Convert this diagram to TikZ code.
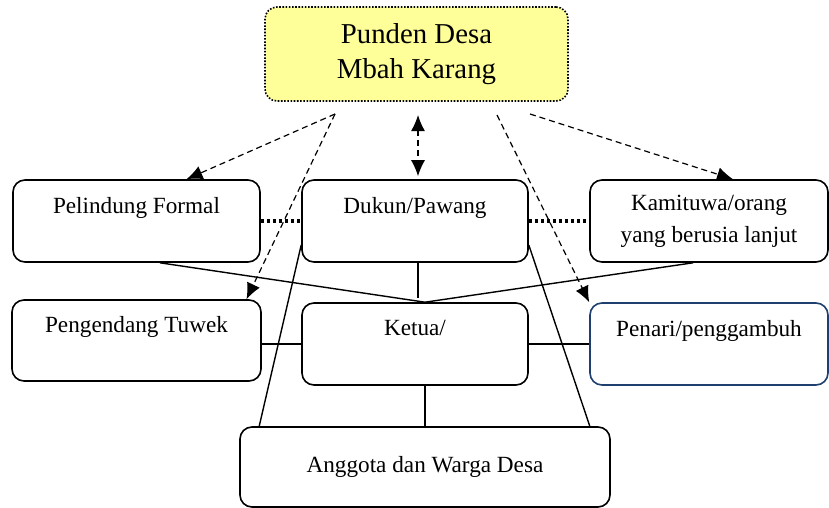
\documentclass[tikz,border=0pt]{standalone}
\usepackage{fontspec}
\setmainfont{Liberation Serif}
\definecolor{shrine}{HTML}{FFFF99}
\definecolor{bluedge}{HTML}{1F3F6E}
\usetikzlibrary{arrows.meta}

\begin{document}
\begin{tikzpicture}[x=0.5pt, y=-0.5pt,
		box/.style={draw, line width=0.8pt, rounded corners=6pt, minimum height=41pt, align=center, inner sep=0pt, font=\fontsize{11.6}{16}\selectfont},
		topbox/.style={draw, fill=shrine, line width=0.8pt, dash pattern=on 0.8pt off 0.8pt, rounded corners=6pt, minimum width=151.5pt, minimum height=47pt, align=center, inner sep=0pt, font=\fontsize{14.4}{17.5}\selectfont},
		link/.style={line width=0.7pt},
		dots/.style={line width=2pt, dash pattern=on 1.5pt off 1.5pt},
		arrow/.style={->, >={Latex[length=8pt,width=7pt]}, line width=0.6pt, dash pattern=on 3pt off 2pt}
	]
	\useasboundingbox (0,0) rectangle (829,508);
	\node[topbox] (punden) at (416.5,54) {Punden Desa\\Mbah Karang};
	\node[box, minimum width=123.5pt] (pelindung) at (136.5,221) {Pelindung Formal\\\mbox{}};
	\node[box, minimum width=113pt] (dukun) at (415,221) {Dukun/Pawang\\\mbox{}};
	\node[box, minimum width=119pt] (kamituwa) at (709,221) {Kamituwa/orang\\yang berusia lanjut};
	\node[box, minimum width=124.5pt, minimum height=40.5pt] (pengendang) at (136.5,340.5) {Pengendang Tuwek\\\mbox{}};
	\node[box, minimum width=113pt] (ketua) at (415,344) {Ketua/\\\mbox{}};
	\node[box, minimum width=119pt, draw=bluedge] (penari) at (709,344) {Penari/penggambuh\\\mbox{}};
	\node[box, minimum width=185pt, minimum height=40pt] (anggota) at (425,467) {Anggota dan Warga Desa};

	\draw[dots] (pelindung) -- (dukun);
	\draw[dots] (dukun) -- (kamituwa);
	\draw[link] (ketua.west) -- (ketua.west -| pengendang.east);
	\draw[link] (ketua) -- (penari);
	\draw[link] (anggota.north) -- (anggota.north |- ketua.south);
	\draw[link] ([xshift=11.75pt]pelindung.south) -- (anggota.north |- ketua.north) -- ([xshift=-8pt]kamituwa.south);
	\draw[link] ([xshift=1.5pt]dukun.south) -- ++(0,35);
	\draw[link] ([yshift=-12pt]dukun.west) -- ([xshift=10pt]anggota.north west);
	\draw[link] ([yshift=-12pt]dukun.east) -- ([xshift=-10.5pt]anggota.north east);

	\coordinate (s1) at (335,114);
	\coordinate (s2) at (418,115);
	\coordinate (s3) at (497,115);
	\coordinate (s4) at (530,114);
	\draw[arrow] (s1) -- ([xshift=25pt]pelindung.north);
	\draw[arrow] (s1) -- ([xshift=55pt]pengendang.north);
	\draw[arrow, <->, shorten >=1.5pt] (s2) -- (s2 |- dukun.north);
	\draw[arrow] (s3) -- (penari.north west);
	\draw[arrow] (s4) -- ([xshift=12pt]kamituwa.north);
\end{tikzpicture}
\end{document}
